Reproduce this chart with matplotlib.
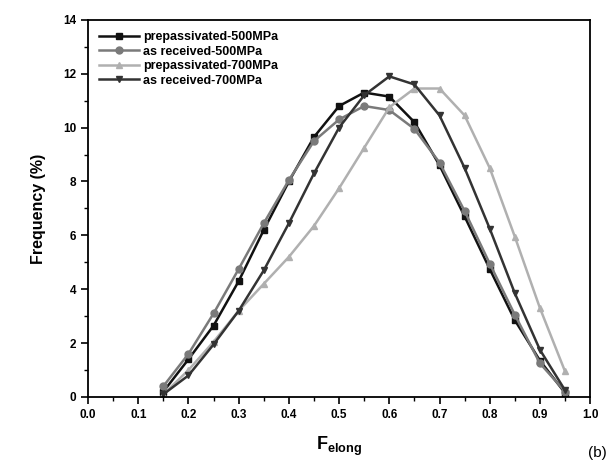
import matplotlib.pyplot as plt
import numpy as np

plt.rcParams['font.family'] = ['Liberation Sans', 'DejaVu Sans']
plt.rcParams['mathtext.fontset'] = 'custom'
plt.rcParams['mathtext.bf'] = 'Liberation Sans:bold'
plt.rcParams['mathtext.rm'] = 'Liberation Sans:bold'

# F_elong bins
f_elong = [0.15, 0.20, 0.25, 0.30, 0.35, 0.40, 0.45, 0.50, 0.55,
           0.60, 0.65, 0.70, 0.75, 0.80, 0.85, 0.90, 0.95]

# frequency (%) per series
prepass_500 = [0.2, 1.4, 2.65, 4.3, 6.2, 8.0, 9.65, 10.8, 11.3,
               11.15, 10.2, 8.6, 6.7, 4.75, 2.85, 1.35, 0.15]
asrec_500 = [0.4, 1.6, 3.1, 4.75, 6.45, 8.05, 9.5, 10.3, 10.8,
             10.65, 9.95, 8.7, 6.9, 4.95, 3.05, 1.25, 0.2]
prepass_700 = [0.1, 1.0, 2.05, 3.2, 4.2, 5.2, 6.35, 7.75, 9.25,
               10.75, 11.45, 11.45, 10.45, 8.5, 5.95, 3.3, 0.95]
asrec_700 = [0.1, 0.8, 1.95, 3.2, 4.7, 6.45, 8.3, 10.0, 11.2,
             11.9, 11.6, 10.45, 8.5, 6.25, 3.85, 1.75, 0.25]

series = [
    ('prepassivated-500MPa', prepass_500, '#111111', 's'),
    ('as received-500MPa', asrec_500, '#7a7a7a', 'o'),
    ('prepassivated-700MPa', prepass_700, '#b0b0b0', '^'),
    ('as received-700MPa', asrec_700, '#333333', 'v'),
]

fig = plt.figure(figsize=(6.16, 4.72), dpi=100)
ax = fig.add_axes([0.143, 0.159, 0.815, 0.799])

for label, vals, color, marker in series:
    ax.plot(f_elong, vals, color=color, marker=marker, markersize=5,
            linewidth=1.8, label=label)

ax.set_xlim(0.0, 1.0)
ax.set_ylim(0, 14)
ax.set_xticks(np.arange(0, 1.01, 0.1))
ax.set_xticks(np.arange(0, 1.01, 0.05), minor=True)
ax.set_yticks(np.arange(0, 15, 2))
ax.set_yticks(np.arange(0, 15, 1), minor=True)
ax.xaxis.set_major_formatter(plt.FormatStrFormatter('%.1f'))

ax.tick_params(axis='both', which='major', direction='out', length=5,
               width=1.2, labelsize=8.5)
ax.tick_params(axis='both', which='minor', direction='out', length=3,
               width=1.0)
for lab in ax.get_xticklabels() + ax.get_yticklabels():
    lab.set_fontweight('bold')
for sp in ax.spines.values():
    sp.set_linewidth(1.3)

ax.set_ylabel('Frequency (%)', fontsize=11.5, fontweight='bold', labelpad=12)
ax.set_xlabel(r'$\mathbf{F_{elong}}$', fontsize=13, labelpad=10)

leg = ax.legend(loc='upper left', frameon=False, fontsize=9,
                handlelength=3.2, handletextpad=0.3, labelspacing=0.2,
                borderaxespad=0.5)
for t in leg.get_texts():
    t.set_fontweight('bold')

fig.text(0.985, 0.025, '(b)', ha='right', va='bottom', fontsize=11)

fig.savefig('out.png', dpi=100)
